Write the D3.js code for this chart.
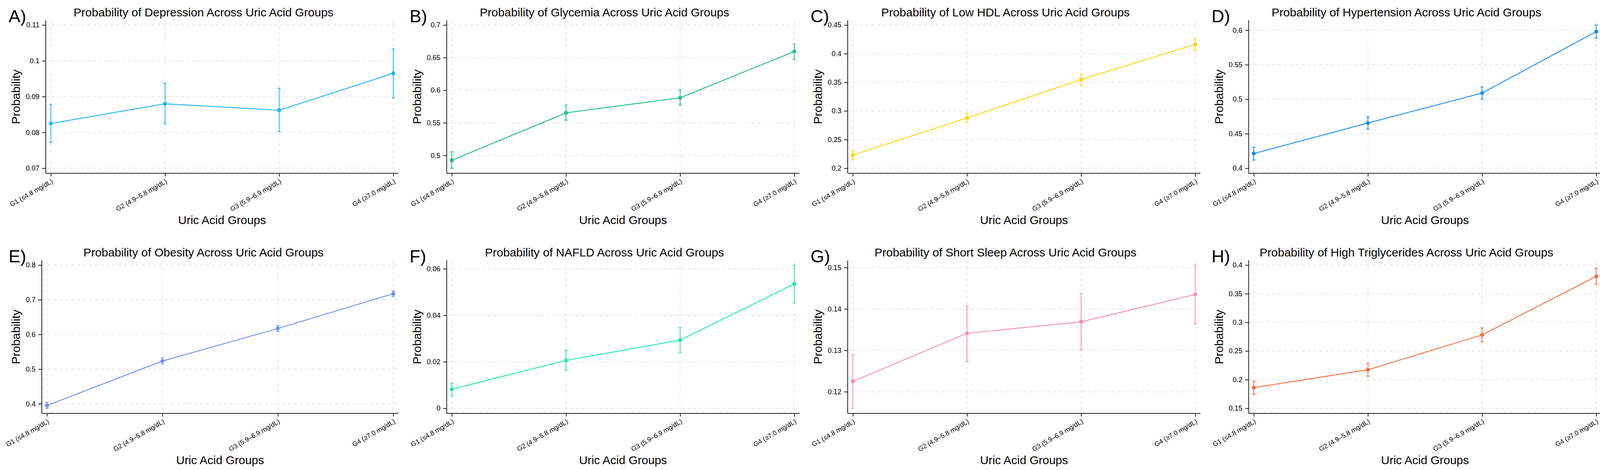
<!DOCTYPE html>
<html>
<head>
<meta charset="utf-8">
<script src="https://cdn.jsdelivr.net/npm/d3@7"></script>
<style>
	body { margin: 0; background: #fff; }
	text { font-family: "Liberation Sans", Arial, Helvetica, sans-serif; fill: #000; }
</style>
</head>
<body>
<div id="chart"></div>
<script>

let w = 4106;
let h = 1204;

// data
let groups = ["G1 (≤4.8 mg/dL)", "G2 (4.9–5.8 mg/dL)", "G3 (5.9–6.9 mg/dL)", "G4 (≥7.0 mg/dL)"];
let letters = ["A)", "B)", "C)", "D)", "E)", "F)", "G)", "H)"];
let outcomes = ["Depression", "Glycemia", "Low HDL", "Hypertension", "Obesity", "NAFLD", "Short Sleep", "High Triglycerides"];
let colors = ["#1cb4f0", "#1dbf8b", "#ffd300", "#1a8cf0", "#6b8ff5", "#1ee6b4", "#f98cb0", "#fb6a3a"];

let probs = [
	[0.0825, 0.0880, 0.0862, 0.0965],
	[0.4926, 0.5653, 0.5884, 0.6593],
	[0.2230, 0.2877, 0.3548, 0.4161],
	[0.4213, 0.4655, 0.5089, 0.5979],
	[0.3951, 0.5232, 0.6171, 0.7174],
	[0.0082, 0.0206, 0.0293, 0.0535],
	[0.1225, 0.1341, 0.1369, 0.1435],
	[0.1861, 0.2173, 0.2781, 0.3802]
];
let lower = [
	[0.0772, 0.0824, 0.0802, 0.0896],
	[0.4804, 0.5539, 0.5768, 0.6473],
	[0.2150, 0.2793, 0.3448, 0.4059],
	[0.4119, 0.4565, 0.5000, 0.5883],
	[0.3869, 0.5145, 0.6085, 0.7095],
	[0.0054, 0.0164, 0.0239, 0.0453],
	[0.1160, 0.1273, 0.1301, 0.1364],
	[0.1745, 0.2059, 0.2661, 0.3667]
];
let upper = [
	[0.0878, 0.0937, 0.0923, 0.1033],
	[0.5056, 0.5772, 0.6004, 0.6711],
	[0.2309, 0.2961, 0.3643, 0.4264],
	[0.4305, 0.4742, 0.5179, 0.6075],
	[0.4037, 0.5322, 0.6258, 0.7256],
	[0.0108, 0.0248, 0.0347, 0.0616],
	[0.1290, 0.1407, 0.1437, 0.1506],
	[0.1973, 0.2285, 0.2904, 0.3945]
];
let yTicks = [
	[0.07, 0.08, 0.09, 0.1, 0.11],
	[0.5, 0.55, 0.6, 0.65, 0.7],
	[0.2, 0.25, 0.3, 0.35, 0.4, 0.45],
	[0.4, 0.45, 0.5, 0.55, 0.6],
	[0.4, 0.5, 0.6, 0.7, 0.8],
	[0, 0.02, 0.04, 0.06],
	[0.12, 0.13, 0.14, 0.15],
	[0.15, 0.2, 0.25, 0.3, 0.35, 0.4]
];

let panelW = w / 4;
let rowH = 615;
let axisColor = "#222";
let gridColor = "#e9e9e9";
let fmt = d3.format("~g");

let viz = d3.select("#chart").append("svg")
	.attr("width", w)
	.attr("height", h)
	.style("background-color", "white")
;

// measure the widest y tick label so the plot area shifts like the original
function labelWidth(ticks){
	let t = viz.append("g").selectAll("text").data(ticks).enter().append("text")
		.style("font-size", "18px")
		.text(d => fmt(d));
	let m = d3.max(t.nodes(), n => n.getComputedTextLength());
	t.remove();
	return m;
}

function drawPanel(i){
	let ox = (i % 4) * panelW;
	let oy = Math.floor(i / 4) * rowH;
	let left = ox + 82 + labelWidth(yTicks[i]);
	let right = ox + 1020;
	let top = oy + 52;
	let bottom = oy + 444;

	let ticks = yTicks[i];
	let yMin = Math.min(ticks[0], d3.min(lower[i]));
	let yMax = Math.max(ticks[ticks.length - 1], d3.max(upper[i]));

	let xScale = d3.scalePoint().domain(groups).range([left, right]).padding(0.045);
	let yScale = d3.scaleLinear().domain([yMin, yMax]).range([bottom - 13, top + 12]);

	let g = viz.append("g").attr("class", "panel");

	// grid
	g.append("g").selectAll("line").data(ticks).enter().append("line")
		.attr("x1", left).attr("x2", right)
		.attr("y1", d => yScale(d)).attr("y2", d => yScale(d))
		.attr("stroke", gridColor).attr("stroke-width", 2).attr("stroke-dasharray", "9,6");
	g.append("g").selectAll("line").data(groups).enter().append("line")
		.attr("x1", d => xScale(d)).attr("x2", d => xScale(d))
		.attr("y1", top).attr("y2", bottom)
		.attr("stroke", gridColor).attr("stroke-width", 2).attr("stroke-dasharray", "9,6");

	// y axis
	let yAxis = g.append("g")
		.attr("transform", "translate(" + left + ",0)")
		.call(d3.axisLeft(yScale).tickValues(ticks).tickFormat(fmt).tickSize(9).tickPadding(7));
	yAxis.select(".domain").remove();
	yAxis.selectAll("line").attr("stroke", axisColor).attr("stroke-width", 2);
	yAxis.selectAll("text").style("font-size", "18px").attr("fill", "#000");

	// x axis
	let xAxis = g.append("g")
		.attr("transform", "translate(0," + bottom + ")")
		.call(d3.axisBottom(xScale).tickSize(8));
	xAxis.select(".domain").remove();
	xAxis.selectAll("line").attr("stroke", axisColor).attr("stroke-width", 2);
	xAxis.selectAll("text")
		.style("font-size", "17px")
		.style("text-anchor", "end")
		.attr("fill", "#000")
		.attr("x", 0).attr("y", 0).attr("dy", 0)
		.attr("transform", "translate(6,24) rotate(-30)");

	// axis lines
	g.append("line").attr("x1", left).attr("x2", left).attr("y1", top).attr("y2", bottom)
		.attr("stroke", axisColor).attr("stroke-width", 2);
	g.append("line").attr("x1", left).attr("x2", right).attr("y1", bottom).attr("y2", bottom)
		.attr("stroke", axisColor).attr("stroke-width", 2);

	// error bars
	let bars = g.append("g").selectAll("g").data(groups).enter().append("g")
		.attr("stroke", colors[i]).attr("stroke-width", 2);
	bars.append("line")
		.attr("x1", d => xScale(d)).attr("x2", d => xScale(d))
		.attr("y1", (d, j) => yScale(lower[i][j])).attr("y2", (d, j) => yScale(upper[i][j]));
	bars.append("line")
		.attr("x1", d => xScale(d) - 4).attr("x2", d => xScale(d) + 4)
		.attr("y1", (d, j) => yScale(lower[i][j])).attr("y2", (d, j) => yScale(lower[i][j]));
	bars.append("line")
		.attr("x1", d => xScale(d) - 4).attr("x2", d => xScale(d) + 4)
		.attr("y1", (d, j) => yScale(upper[i][j])).attr("y2", (d, j) => yScale(upper[i][j]));

	// line + points
	let line = d3.line()
		.x((d, j) => xScale(groups[j]))
		.y(d => yScale(d));
	g.append("path").datum(probs[i])
		.attr("d", line)
		.attr("fill", "none")
		.attr("stroke", colors[i])
		.attr("stroke-width", 2.2);
	g.append("g").selectAll("circle").data(probs[i]).enter().append("circle")
		.attr("cx", (d, j) => xScale(groups[j]))
		.attr("cy", d => yScale(d))
		.attr("r", 5)
		.attr("fill", colors[i]);

	// texts
	g.append("text")
		.attr("x", ox + 521).attr("y", oy + 42)
		.attr("text-anchor", "middle")
		.style("font-size", "30px")
		.text("Probability of " + outcomes[i] + " Across Uric Acid Groups");
	g.append("text")
		.attr("x", ox + 22).attr("y", oy + 57)
		.style("font-size", "45px")
		.text(letters[i]);
	g.append("text")
		.attr("transform", "translate(" + (ox + 51) + "," + ((top + bottom) / 2) + ") rotate(-90)")
		.attr("text-anchor", "middle")
		.style("font-size", "30px")
		.text("Probability");
	g.append("text")
		.attr("x", (left + right) / 2).attr("y", oy + 574)
		.attr("text-anchor", "middle")
		.style("font-size", "30px")
		.text("Uric Acid Groups");
}

d3.range(8).forEach(drawPanel);

</script>
</body>
</html>
